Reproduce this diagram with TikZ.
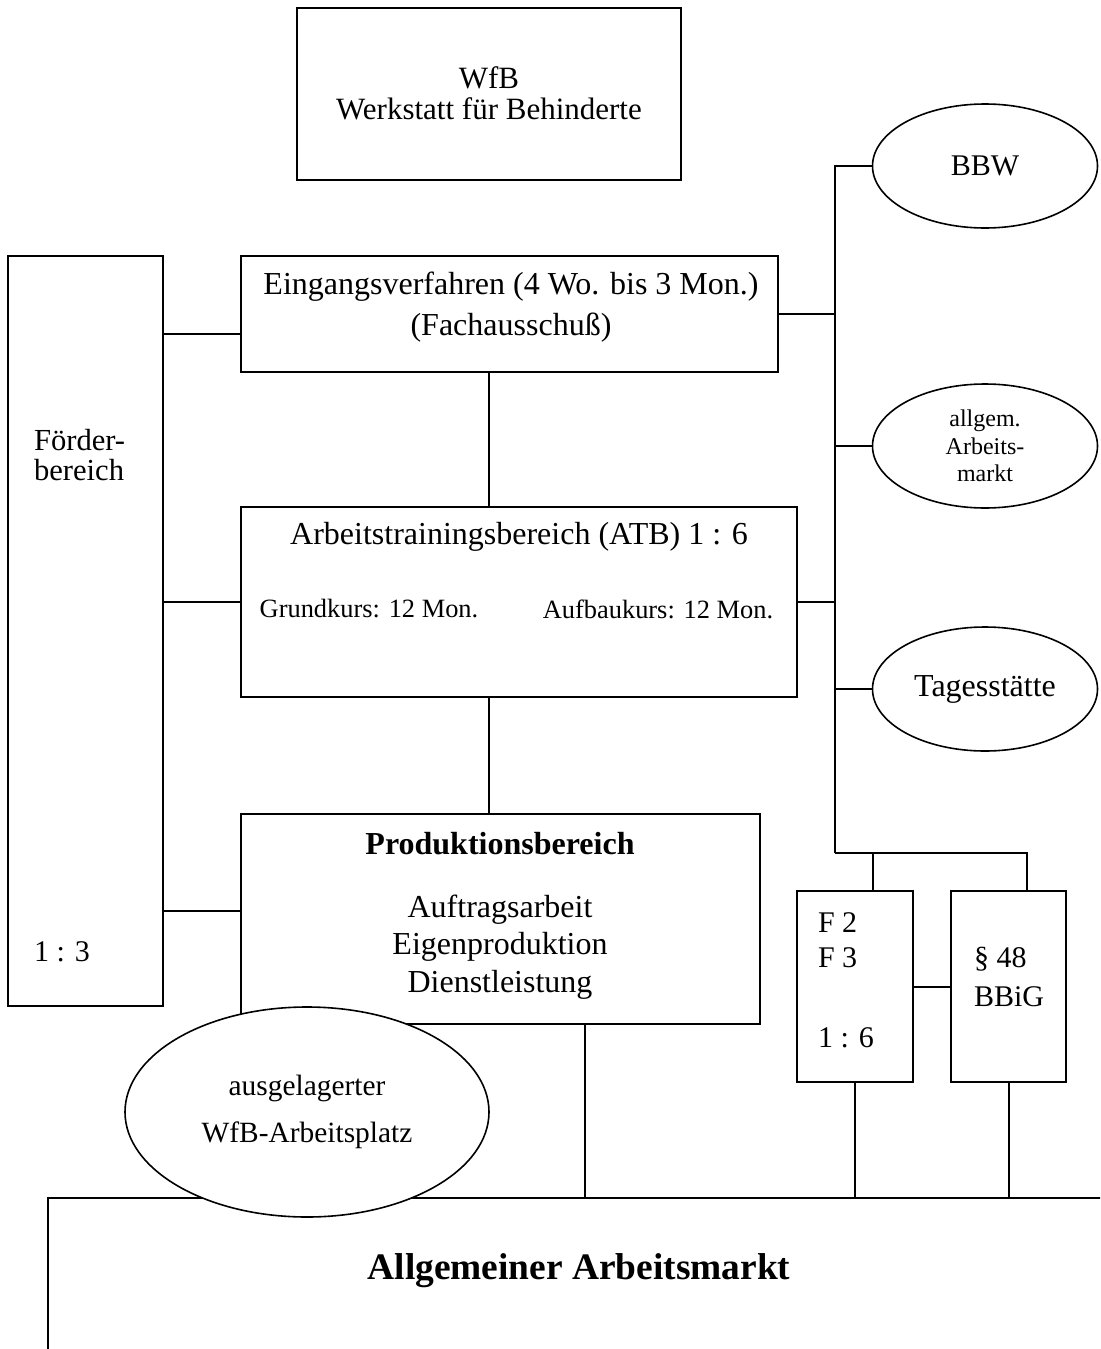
\documentclass[tikz,border=0pt]{standalone}
\usepackage{fontspec}
\setmainfont{Liberation Serif}
\usetikzlibrary{positioning, fit, shapes.geometric}
\newcommand{\boxfont}{\fontsize{16}{20.5}\selectfont}
\newcommand{\sidefont}{\fontsize{15}{17.5}\selectfont}
\tikzset{box/.style={draw, line width=1pt, inner sep=0pt}, oval/.style={draw, ellipse, line width=0.8pt, fill=white, inner sep=0pt, align=center, minimum width=112.5pt, minimum height=62pt}, lbl/.style={inner sep=0pt, align=center}}

\begin{document}
\begin{tikzpicture}[x=0.5pt, y=-0.5pt, line width=1pt]

	\useasboundingbox (0,0) rectangle (1100,1349);
	\clip (0,0) rectangle (1100,1349);

	\node [box, fit={(297,8) (681,180)}] (wfb) {};
	\node [lbl, font=\fontsize{15.5}{15.5}\selectfont] (wfb text) at (489,93) {WfB\\Werkstatt für Behinderte};

	\node [box, fit={(8,256) (163,1006)}] (foerder) {};
	\node [lbl, anchor=west, align=left, font=\fontsize{15.3}{15}\selectfont] (foerder text) at (33,455) {Förder-\\bereich};
	\node [lbl, anchor=west, font=\sidefont] (foerder ratio) at (33,952) {1 : 3};

	\node [box, fit={(241,256) (778,372)}] (eingang) {};
	\node [lbl, font=\boxfont] (eingang text) at (511,307) {Eingangsverfahren (4 Wo. bis 3 Mon.)\\(Fachausschuß)};

	\node [box, fit={(241,507) (797,697)}] (atb) {};
	\node [lbl, font=\boxfont] (atb text) at (519,537) {Arbeitstrainingsbereich (ATB) 1 : 6};
	\node [lbl, font=\fontsize{13.2}{15}\selectfont] (grundkurs) at (369,609) {Grundkurs: 12 Mon.};
	\node [lbl, font=\fontsize{13.2}{15}\selectfont] (aufbaukurs) at (658,609) {Aufbaukurs: 12 Mon.};

	\node [box, fit={(241,814) (760,1024)}] (prod) {};
	\node [lbl, font=\boxfont\bfseries] (prod title) at (500,844) {Produktionsbereich};
	\node [lbl, font=\fontsize{16}{18.75}\selectfont] (prod text) at (500,947) {Auftragsarbeit\\Eigenproduktion\\Dienstleistung};

	\node [box, fit={(797,891) (913,1082)}] (f2) {};
	\node [lbl, anchor=west, align=left, font=\sidefont] (f2 text) at (817,980) {F 2\\F 3\\[22.5pt]1 : 6};

	\node [box, fit={(951,891) (1066,1082)}] (bbig) {};
	\node [lbl, anchor=west, align=left, font=\fontsize{15}{19.5}\selectfont] (bbig text) at (973,977) {§ 48\\BBiG};

	\node [box, fit={(48,1198) (1160,1400)}] (markt) {};
	\node [lbl, font=\fontsize{18.7}{20}\selectfont\bfseries] (markt text) at (579,1271) {Allgemeiner Arbeitsmarkt};

	\node [oval, font=\fontsize{15}{15}\selectfont] (bbw) at (985,166) {BBW};
	\node [oval, font=\fontsize{12}{13.75}\selectfont] (allg) at (985,446) {allgem.\\Arbeits-\\markt};
	\node [oval, font=\fontsize{16}{16}\selectfont] (tages) at (985,689) {Tagesstätte};

	%links to the left column
	\draw ([yshift=-10pt]eingang.west) -- ([yshift=-10pt]eingang.west -| foerder.east);
	\draw (atb.west) -- (atb.west -| foerder.east);
	\draw ([yshift=4pt]prod.west) -- ([yshift=4pt]prod.west -| foerder.east);

	\draw ([xshift=-10.25pt]eingang.south) -- ([xshift=-10.25pt]eingang.south |- atb.north);
	\draw ([xshift=-15pt]atb.south) -- ([xshift=-15pt]atb.south |- prod.north);
	\draw ([xshift=42.25pt]prod.south) -- ([xshift=42.25pt]prod.south |- markt.north);

	%right bus
	\coordinate (bus) at (835,853);
	\draw (bbw.west) -| (bus);
	\draw (allg.west) -- (allg.west -| bus);
	\draw (tages.west) -- (tages.west -| bus);
	\draw (eingang.east) -- (eingang.east -| bus);
	\draw (atb.east) -- (atb.east -| bus);
	\draw (bus) -| ([xshift=9pt]f2.north);
	\draw (bus) -| ([xshift=9pt]bbig.north);
	\draw (f2.east) -- (bbig.west);
	\draw (f2.south) -- (f2.south |- markt.north);
	\draw (bbig.south) -- (bbig.south |- markt.north);

	\node [oval, minimum width=182pt, minimum height=105pt, font=\fontsize{14.7}{23.5}\selectfont] (ausg) at (307,1112) {ausgelagerter\\WfB-Arbeitsplatz};

\end{tikzpicture}
\end{document}
